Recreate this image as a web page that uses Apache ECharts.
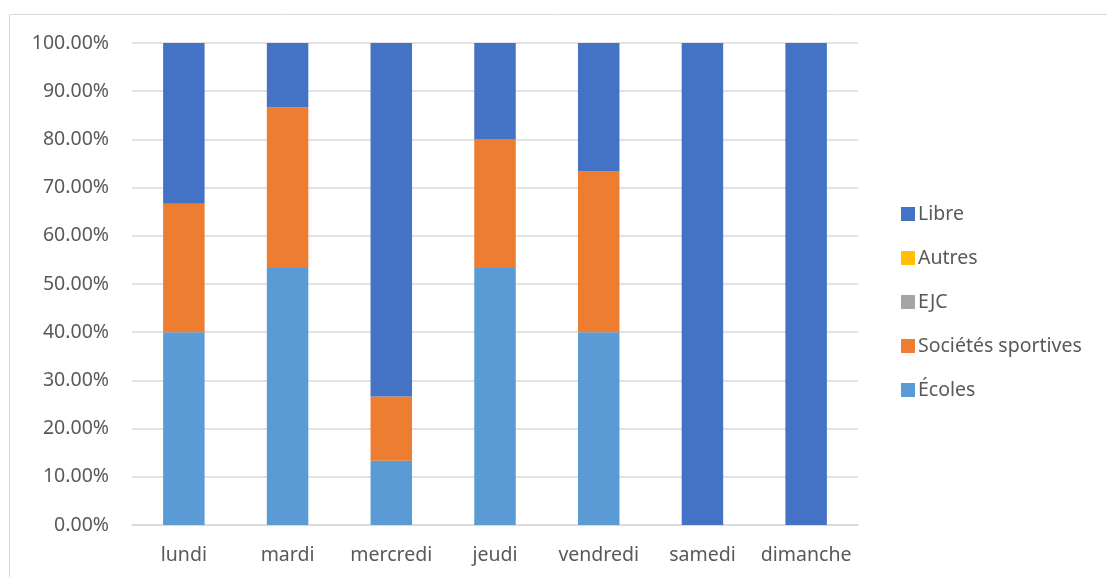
<!DOCTYPE html>
<html>
<head>
<meta charset="utf-8">
<script src="https://cdn.jsdelivr.net/npm/echarts@6/dist/echarts.min.js"></script>
<style>
html,body{margin:0;padding:0;background:#fff;}
#chart{width:1107px;height:577px;}
</style>
</head>
<body>
<div id="chart"></div>
<script>
const categories = ['lundi','mardi','mercredi','jeudi','vendredi','samedi','dimanche'];
const ecoles = [40, 53.33, 13.33, 53.33, 40, 0, 0];
const societes = [26.67, 33.33, 13.33, 26.67, 33.33, 0, 0];
const ejc = [0, 0, 0, 0, 0, 0, 0];
const autres = [0, 0, 0, 0, 0, 0, 0];
const libre = [33.33, 13.33, 73.33, 20, 26.67, 100, 100];
const legendOrder = ['Libre','Autres','EJC','Sociétés sportives','Écoles'];

const FONT = '"Noto Sans", sans-serif';
const chart = echarts.init(document.getElementById('chart'));
function s(name, data, color){
  return {name, type:'bar', stack:'t', data, barWidth:'40%', itemStyle:{color}, emphasis:{disabled:true}};
}
chart.setOption({
  animation:false,
  textStyle:{fontFamily:FONT},
  graphic:[{type:'rect', shape:{x:9.5,y:14.5,width:1120,height:600}, style:{fill:'none', stroke:'#d9d9d9', lineWidth:1}, silent:true}],
  grid:{left:132, right:249, top:43, bottom:52},
  xAxis:{type:'category', data:categories,
    axisLine:{lineStyle:{color:'#d9d9d9', width:1.5}}, axisTick:{show:false},
    axisLabel:{color:'#595959', fontSize:19.5, margin:20, fontFamily:FONT, interval:0, hideOverlap:false}},
  yAxis:{type:'value', min:0, max:100, interval:10,
    axisLine:{show:false}, axisTick:{show:false},
    splitLine:{lineStyle:{color:'#d9d9d9', width:1.5}},
    axisLabel:{color:'#595959', fontSize:19.5, margin:23, fontFamily:FONT, formatter:v=>v.toFixed(2)+'%'}},
  legend:{orient:'vertical', left:896, top:199, itemWidth:14, itemHeight:14, itemGap:24,
    data:legendOrder, icon:'rect',
    textStyle:{color:'#595959', fontSize:19.5, fontFamily:FONT, padding:[0,0,0,-2]}},
  series:[
    s('Écoles', ecoles, '#5b9bd5'),
    s('Sociétés sportives', societes, '#ed7d31'),
    s('EJC', ejc, '#a5a5a5'),
    s('Autres', autres, '#ffc000'),
    s('Libre', libre, '#4472c4')
  ]
});
</script>
</body>
</html>
